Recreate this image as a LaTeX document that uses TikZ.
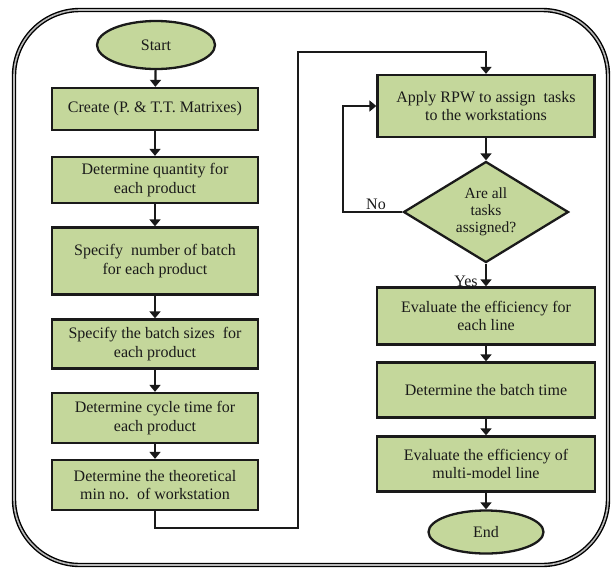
\documentclass[tikz,border=0pt]{standalone}
\usepackage{fontspec}
\setmainfont{Liberation Serif}
\usetikzlibrary{shapes.geometric,arrows.meta}
\definecolor{boxfill}{HTML}{C4D79B}
\definecolor{ink}{HTML}{1A1A1A}
\tikzset{
  box/.style={draw=ink, line width=2.3pt, fill=boxfill, rectangle, align=center, inner sep=2pt, text=ink, font=\fontsize{16}{18.5}\selectfont},
  term/.style={draw=ink, line width=2.3pt, fill=boxfill, ellipse, inner sep=0pt, text=ink, font=\fontsize{16}{18.5}\selectfont},
  decision/.style={draw=ink, line width=2.3pt, fill=boxfill, diamond, aspect=1.63, inner sep=0pt, align=center, text=ink, font=\fontsize{15.5}{17}\selectfont},
  flow/.style={draw=ink, line width=2.2pt, -{Triangle[length=7pt,width=11pt]}},
  lbl/.style={text=ink, font=\fontsize{16}{18}\selectfont, inner sep=0pt}
}
\begin{document}
\begin{tikzpicture}[x=1pt,y=-1pt]
\useasboundingbox (0,0) rectangle (613,571);
% outer frame
\draw[line width=1.4pt, draw=black, double=gray!55, double distance=1.6pt, rounded corners=66pt] (14,10) rectangle (608,565);

% left column
\node[term, minimum width=118pt, minimum height=48pt] (start) at (156,45) {Start};
\node[box, minimum width=206pt, minimum height=42pt] (create) at (155,109) {Create (P.\ \& T.T.\ Matrixes)};
\node[box, minimum width=206pt, minimum height=46pt] (qty) at (155,180) {Determine quantity for\\each product};
\node[box, minimum width=206pt, minimum height=67pt] (num) at (155,261) {Specify\ \ number of batch\\for each product};
\node[box, minimum width=206pt, minimum height=49pt] (sizes) at (155,344) {Specify the batch sizes\ \ for\\each product};
\node[box, minimum width=206pt, minimum height=50pt] (cycle) at (155,418) {Determine cycle time for\\each product};
\node[box, minimum width=206pt, minimum height=50pt] (theo) at (155,485) {Determine the theoretical\\min no.\ \ of workstation};

% right column
\node[box, minimum width=217pt, minimum height=62pt] (apply) at (486,106) {Apply RPW to assign\ \ tasks\\to the workstations};
\node[decision, minimum width=165pt, minimum height=101pt] (dec) at (486,212) {Are all\\tasks\\assigned?};
\node[box, minimum width=218pt, minimum height=57pt] (eval) at (486,316) {Evaluate the efficiency for\\each line};
\node[box, minimum width=218pt, minimum height=55pt] (btime) at (486,390) {Determine the batch time};
\node[box, minimum width=218pt, minimum height=55pt] (multi) at (486,464) {Evaluate the efficiency of\\multi-model line};
\node[term, minimum width=115pt, minimum height=43pt] (end) at (486,532) {End};

% connectors left
\draw[flow] (start) -- (create);
\draw[flow] (create) -- (qty);
\draw[flow] (qty) -- (num);
\draw[flow] (num) -- (sizes);
\draw[flow] (sizes) -- (cycle);
\draw[flow] (cycle) -- (theo);

% transfer
\coordinate (c1) at (298,528);
\coordinate (c2) at (298,52);
\draw[flow] (theo.south) |- (c1) -- (c2) -| (apply.north);

% right connectors
\draw[flow] (apply) -- (dec);
\coordinate (c3) at (343,106);
\draw[flow] (dec.west) -| (c3) -- (apply.west);
\draw[flow] (dec) -- (eval);
\draw[flow] (eval) -- (btime);
\draw[flow] (btime) -- (multi);
\draw[flow] (multi) -- (end);

\node[lbl] (no) at (376,204) {No};
\node[lbl] (yes) at (466,281) {Yes};
\end{tikzpicture}
\end{document}
